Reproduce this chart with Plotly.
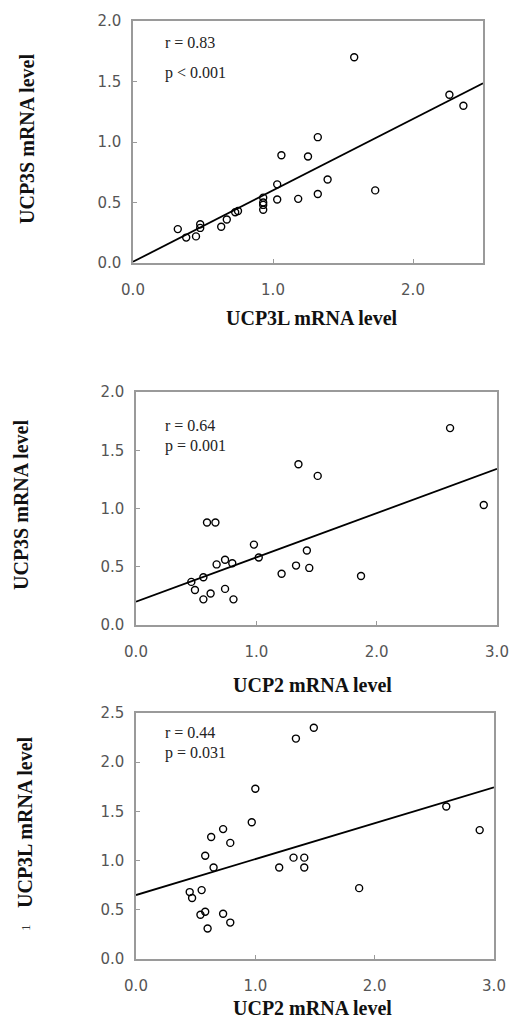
import plotly.graph_objects as go

# ---- Data ----
# Panel A: UCP3L (x) vs UCP3S (y)
a_x = [1.58, 2.26, 2.36, 1.32, 1.06, 1.25, 1.39, 1.73, 1.03, 1.03, 1.18, 1.32,
       0.93, 0.93, 0.93, 0.93, 0.73, 0.75, 0.67, 0.63, 0.48, 0.48, 0.45, 0.38, 0.32]
a_y = [1.70, 1.39, 1.30, 1.04, 0.89, 0.88, 0.69, 0.60, 0.65, 0.525, 0.53, 0.57,
       0.54, 0.50, 0.48, 0.44, 0.42, 0.43, 0.36, 0.30, 0.32, 0.29, 0.22, 0.21, 0.28]
a_fit = (0.01, 0.59)   # intercept, slope
a_stats = ["r = 0.83", "p < 0.001"]

# Panel B: UCP2 (x) vs UCP3S (y)
b_x = [2.61, 1.35, 1.51, 2.89, 0.59, 0.66, 0.98, 1.02, 1.42, 1.33, 1.44, 1.21,
       1.87, 0.74, 0.67, 0.80, 0.56, 0.46, 0.49, 0.56, 0.62, 0.74, 0.81]
b_y = [1.69, 1.38, 1.28, 1.03, 0.88, 0.88, 0.69, 0.58, 0.64, 0.51, 0.49, 0.44,
       0.42, 0.56, 0.52, 0.53, 0.41, 0.37, 0.30, 0.22, 0.27, 0.31, 0.22]
b_fit = (0.20, 0.38)
b_stats = ["r = 0.64", "p = 0.001"]

# Panel C: UCP2 (x) vs UCP3L (y)
c_x = [1.49, 1.34, 1.00, 0.97, 0.73, 0.63, 0.79, 0.58, 0.65, 1.20, 1.32, 1.41,
       1.41, 1.87, 2.60, 2.88, 0.45, 0.55, 0.47, 0.58, 0.54, 0.73, 0.79, 0.60]
c_y = [2.35, 2.24, 1.73, 1.39, 1.32, 1.24, 1.18, 1.05, 0.93, 0.93, 1.03, 1.03,
       0.93, 0.72, 1.55, 1.31, 0.68, 0.70, 0.62, 0.48, 0.45, 0.46, 0.37, 0.31]
c_fit = (0.65, 0.365)
c_stats = ["r = 0.44", "p = 0.031"]

x_titles = ["UCP3L mRNA level", "UCP2 mRNA level", "UCP2 mRNA level"]
y_titles = ["UCP3S mRNA level", "UCP3S mRNA level", "UCP3L mRNA level"]
x_ranges = [[0, 2.5], [0, 3.0], [0, 3.0]]
y_ranges = [[0, 2.0], [0, 2.0], [0, 2.5]]

W, H = 513, 1021
# plot boxes in pixels: left, right, top, bottom
boxes = [(133, 483, 21, 263), (136, 497, 392, 625), (136, 494, 713, 959)]

panels = [(a_x, a_y, a_fit, a_stats), (b_x, b_y, b_fit, b_stats), (c_x, c_y, c_fit, c_stats)]

fig = go.Figure()
SERIF = "Liberation Serif, Times New Roman, serif"
SANS = "DejaVu Sans, Arial, sans-serif"
AXC = "#9a9a9a"

layout = dict(width=W, height=H, margin=dict(l=0, r=0, t=0, b=0, autoexpand=False),
              paper_bgcolor="white", plot_bgcolor="white", showlegend=False)
annotations = []

for i, ((xs, ys, fit, stats), (l, r, t, b)) in enumerate(zip(panels, boxes)):
    n = "" if i == 0 else str(i + 1)
    xa, ya = "x" + n, "y" + n
    fig.add_trace(go.Scatter(x=xs, y=ys, mode="markers", xaxis=xa, yaxis=ya,
                             marker=dict(symbol="circle-open", size=7, color="black",
                                         line=dict(width=1.4, color="black"))))
    lx = x_ranges[i]
    ly = [fit[0] + fit[1] * v for v in lx]
    fig.add_trace(go.Scatter(x=lx, y=ly, mode="lines", xaxis=xa, yaxis=ya,
                             line=dict(color="black", width=1.8)))
    common = dict(showgrid=False, zeroline=False, showline=True, mirror=True,
                  linecolor=AXC, linewidth=1.5, ticks="inside", ticklen=4,
                  tickcolor=AXC, tickformat=".1f", automargin=False,
                  tickfont=dict(family=SANS, size=15, color="#555"))
    layout["xaxis" + n] = dict(common, domain=[l / W, r / W], range=x_ranges[i],
                               dtick=1.0, tick0=0, anchor=ya, ticklabelstandoff=12)
    layout["yaxis" + n] = dict(common, domain=[1 - b / H, 1 - t / H], range=y_ranges[i],
                               dtick=0.5, tick0=0, anchor=xa, ticklabelstandoff=7)
    offs = [21, 52] if i == 0 else [33, 54]
    if i == 2:
        offs = [19, 40]
    for s, dy in zip(stats, offs):
        annotations.append(dict(x=163 / W, y=1 - (t + dy) / H, xref="paper", yref="paper",
                                text=s, showarrow=False, xanchor="left", yanchor="middle",
                                font=dict(family=SERIF, size=16, color="#222")))

# axis titles
xt_pos = [(312, 318), (312, 685), (312, 1008)]
yt_pos = [(27, 139), (21, 505), (25, 822)]
for i in range(3):
    annotations.append(dict(x=xt_pos[i][0] / W, y=1 - xt_pos[i][1] / H, xref="paper", yref="paper",
                            text="<b>" + x_titles[i] + "</b>", showarrow=False,
                            xanchor="center", yanchor="middle",
                            font=dict(family=SERIF, size=20, color="#111")))
    annotations.append(dict(x=yt_pos[i][0] / W, y=1 - yt_pos[i][1] / H, xref="paper", yref="paper",
                            text="<b>" + y_titles[i] + "</b>", showarrow=False, textangle=-90,
                            xanchor="center", yanchor="middle",
                            font=dict(family=SERIF, size=20, color="#111")))
annotations.append(dict(x=25 / W, y=1 - 928 / H, xref="paper", yref="paper", text="1",
                        showarrow=False, textangle=-90, xanchor="center", yanchor="middle",
                        font=dict(family=SERIF, size=13, color="#333")))

layout["annotations"] = annotations
fig.update_layout(**layout)
fig.write_html("out.html", config={"displayModeBar": False},
               post_script="document.body.style.margin='0';document.body.style.overflow='hidden';")
